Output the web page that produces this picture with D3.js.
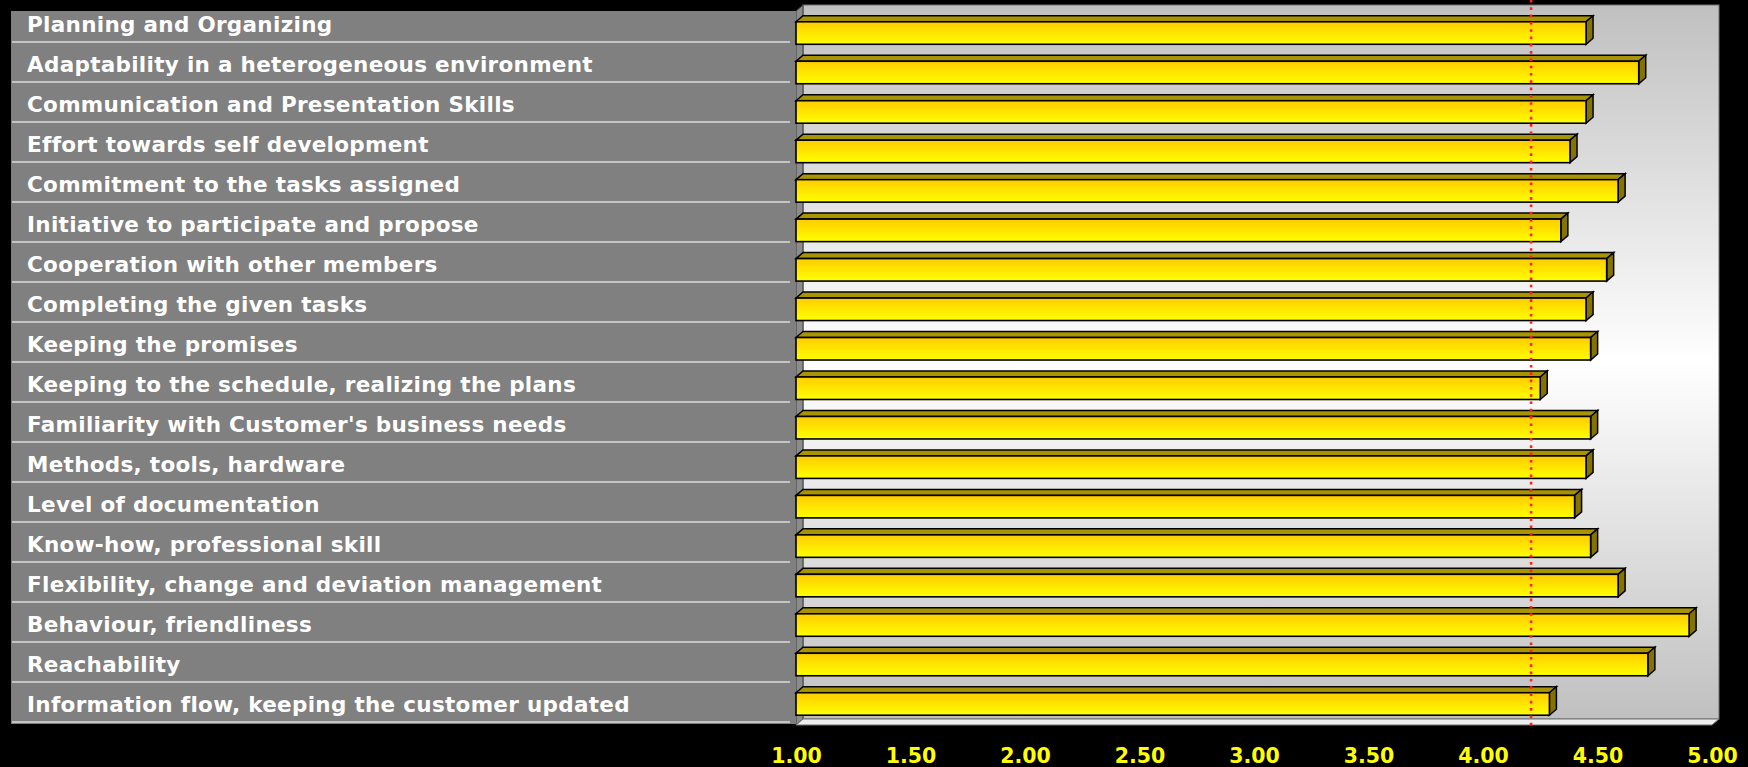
<!DOCTYPE html>
<html>
<head>
<meta charset="utf-8">
<script src="https://cdn.jsdelivr.net/npm/d3@7"></script>
<style>
  body { margin: 0; background: #000; }
  svg { display: block; }
</style>
</head>
<body>
<script>
// data
const categories = [
  "Planning and Organizing",
  "Adaptability in a heterogeneous environment",
  "Communication and Presentation Skills",
  "Effort towards self development",
  "Commitment to the tasks assigned",
  "Initiative to participate and propose",
  "Cooperation with other members",
  "Completing the given tasks",
  "Keeping the promises",
  "Keeping to the schedule, realizing the plans",
  "Familiarity with Customer's business needs",
  "Methods, tools, hardware",
  "Level of documentation",
  "Know-how, professional skill",
  "Flexibility, change and deviation management",
  "Behaviour, friendliness",
  "Reachability",
  "Information flow, keeping the customer updated"
];
const scores = [4.45, 4.68, 4.45, 4.38, 4.59, 4.34, 4.54, 4.45, 4.47, 4.25,
                4.47, 4.45, 4.40, 4.47, 4.59, 4.90, 4.72, 4.29];
const refValue = 4.21;
const tickValues = [1.00, 1.50, 2.00, 2.50, 3.00, 3.50, 4.00, 4.50, 5.00];

const W = 1748, H = 767;
const dx = 7, dy = 6;   // 3d depth

const svg = d3.select("body").append("svg")
    .attr("width", W)
    .attr("height", H);

const defs = svg.append("defs");
const wallGrad = defs.append("linearGradient").attr("id", "wall")
    .attr("x1", 0).attr("y1", 0).attr("x2", 0).attr("y2", 1);
wallGrad.append("stop").attr("offset", "0%").attr("stop-color", "#c0c0c0");
wallGrad.append("stop").attr("offset", "50%").attr("stop-color", "#ffffff");
wallGrad.append("stop").attr("offset", "100%").attr("stop-color", "#c0c0c0");

const barGrad = defs.append("linearGradient").attr("id", "barface")
    .attr("x1", 0).attr("y1", 0).attr("x2", 0).attr("y2", 1);
barGrad.append("stop").attr("offset", "0%").attr("stop-color", "#ffcc00");
barGrad.append("stop").attr("offset", "100%").attr("stop-color", "#ffff00");

// scales
const x = d3.scaleLinear().domain([1, 5]).range([796, 1712]);
const y = d3.scaleBand().domain(categories).range([13, 724])
    .paddingInner(0.43).paddingOuter(0.2225);
const yLabel = d3.scaleBand().domain(categories).range([2, 722]);

const x0 = x(1), x1 = x(5);
const top0 = 11, bot0 = 725;

// back wall
svg.append("rect")
    .attr("x", x0 + dx).attr("y", top0 - dy)
    .attr("width", x1 - x0).attr("height", bot0 - top0)
    .attr("fill", "url(#wall)")
    .attr("stroke", "#707070").attr("stroke-width", 1);

// left wall
svg.append("polygon")
    .attr("points", [[x0, top0], [x0 + dx, top0 - dy], [x0 + dx, bot0 - dy], [x0, bot0]].join(" "))
    .attr("fill", "#8c8c8c").attr("stroke", "#3a3a3a").attr("stroke-width", 1);

// floor
svg.append("polygon")
    .attr("points", [[x0, bot0], [x0 + dx, bot0 - dy], [x1 + dx, bot0 - dy], [x1, bot0]].join(" "))
    .attr("fill", "#eeeeee").attr("stroke", "#707070").attr("stroke-width", 1);

// label panel
svg.append("rect")
    .attr("x", 11).attr("y", 11)
    .attr("width", x0 - 11).attr("height", 713)
    .attr("fill", "#808080");

svg.append("g").selectAll("line").data(categories).enter()
    .append("line")
    .attr("x1", 12).attr("x2", 790)
    .attr("y1", d => yLabel(d) + yLabel.bandwidth())
    .attr("y2", d => yLabel(d) + yLabel.bandwidth())
    .attr("stroke", "#c4c4c4").attr("stroke-width", 2);

svg.append("g").selectAll("text").data(categories).enter()
    .append("text")
    .attr("x", 27)
    .attr("y", d => yLabel(d) + yLabel.bandwidth() / 2 + 10)
    .attr("fill", "#ffffff")
    .style("font-family", "DejaVu Sans")
    .style("font-weight", "bold")
    .style("font-size", "21.5px")
    .style("letter-spacing", "0.3px")
    .text(d => d);

// bars
const bars = svg.append("g").selectAll("g").data(categories).enter()
    .append("g");

const bh = y.bandwidth();

bars.append("polygon")   // top face
    .attr("points", (d, i) => {
        const t = y(d), r = x(scores[i]);
        return [[x0, t], [x0 + dx, t - dy], [r + dx, t - dy], [r, t]].join(" ");
    })
    .attr("fill", "#a89400").attr("stroke", "#000").attr("stroke-width", 1.5);

bars.append("polygon")   // side face
    .attr("points", (d, i) => {
        const t = y(d), r = x(scores[i]);
        return [[r, t], [r + dx, t - dy], [r + dx, t + bh - dy], [r, t + bh]].join(" ");
    })
    .attr("fill", "#857300").attr("stroke", "#000").attr("stroke-width", 1.5);

bars.append("rect")      // front face
    .attr("x", x0)
    .attr("y", d => y(d))
    .attr("width", (d, i) => x(scores[i]) - x0)
    .attr("height", bh)
    .attr("fill", "url(#barface)")
    .attr("stroke", "#000").attr("stroke-width", 1.6);

// reference line
svg.append("line")
    .attr("x1", x(refValue)).attr("x2", x(refValue))
    .attr("y1", 0).attr("y2", bot0 + 2)
    .attr("stroke", "#ff2020")
    .attr("stroke-width", 2.6)
    .attr("stroke-dasharray", "2.6,4.7");

// x axis
const xaxis = d3.axisBottom(x).tickValues(tickValues)
    .tickFormat(d3.format(".2f")).tickSize(0).tickPadding(0);

const ax = svg.append("g").attr("transform", "translate(0,748)").call(xaxis);
ax.select(".domain").remove();
ax.selectAll("text")
    .attr("fill", "#ffff00")
    .style("font-family", "DejaVu Sans")
    .style("font-weight", "bold")
    .style("font-size", "20.5px");
</script>
</body>
</html>
